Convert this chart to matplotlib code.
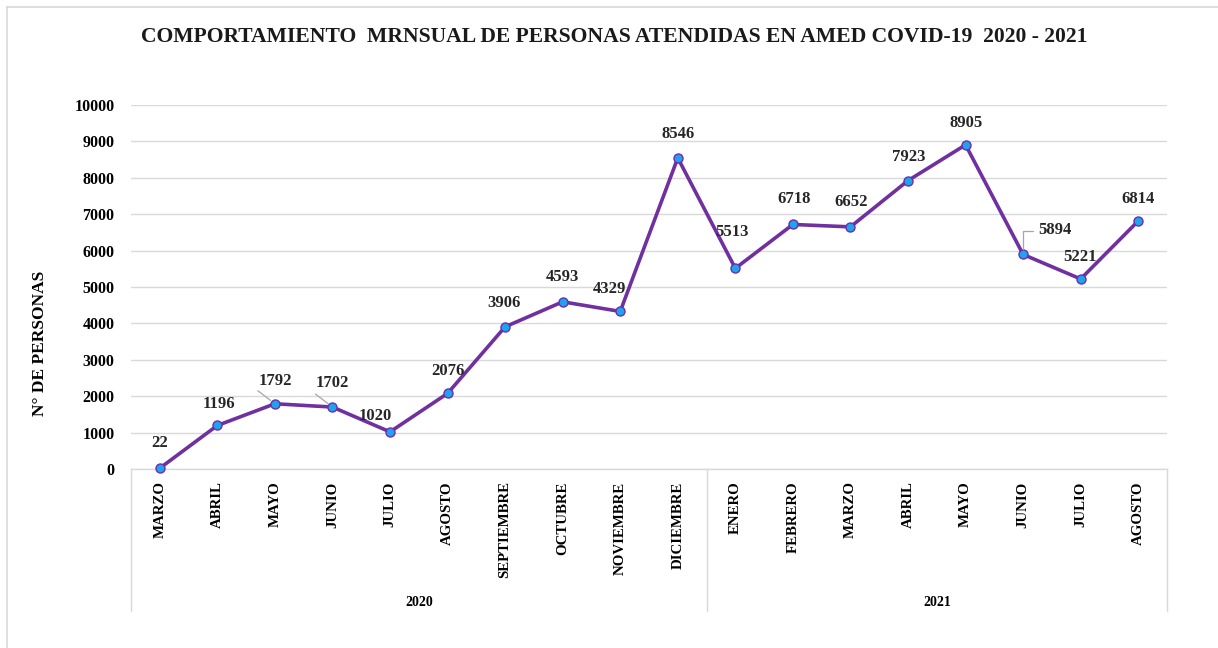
import matplotlib
matplotlib.use("Agg")
import matplotlib.pyplot as plt
from matplotlib.lines import Line2D
import matplotlib.transforms as mtransforms

plt.rcParams['font.family'] = ['Liberation Serif', 'DejaVu Serif']
plt.rcParams['font.weight'] = 'bold'

months = ["MARZO", "ABRIL", "MAYO", "JUNIO", "JULIO", "AGOSTO", "SEPTIEMBRE",
          "OCTUBRE", "NOVIEMBRE", "DICIEMBRE",
          "ENERO", "FEBRERO", "MARZO", "ABRIL", "MAYO", "JUNIO", "JULIO", "AGOSTO"]
years = ["2020", "2021"]
months_per_year = [10, 8]
values = [22, 1196, 1792, 1702, 1020, 2076, 3906, 4593, 4329, 8546,
          5513, 6718, 6652, 7923, 8905, 5894, 5221, 6814]
yticks = list(range(0, 10001, 1000))

title = "COMPORTAMIENTO  MRNSUAL DE PERSONAS ATENDIDAS EN AMED COVID-19  2020 - 2021"
ylabel = "N° DE PERSONAS"

W, H = 1218, 648
fig = plt.figure(figsize=(W / 100, H / 100), dpi=100)
ax = fig.add_axes([131 / W, 1 - 469 / H, (1167 - 131) / W, (469 - 105) / H])

x = list(range(len(values)))
ax.plot(x, values, color='#7030A0', lw=2.6, marker='o', markersize=6.5,
        markerfacecolor='#1FA3EC', markeredgecolor='#6A2FB0', markeredgewidth=1.0,
        zorder=3, clip_on=False)

ax.set_xlim(-0.5, len(values) - 0.5)
ax.set_ylim(0, 10000)
ax.set_yticks(yticks)
ax.set_yticklabels([str(t) for t in yticks], fontsize=11.5, fontweight='bold')
ax.yaxis.grid(True, color='#D9D9D9', lw=1.0)
ax.set_axisbelow(True)
ax.tick_params(axis='y', length=0, pad=12)
ax.set_xticks(x)
ax.set_xticklabels(months, rotation=90, fontsize=10.7, fontweight='bold', va='top')
ax.tick_params(axis='x', length=0, pad=9)
for s in ['top', 'right', 'left']:
    ax.spines[s].set_visible(False)
ax.spines['bottom'].set_color('#D9D9D9')
ax.spines['bottom'].set_linewidth(1.0)

# category group box
trans = mtransforms.blended_transform_factory(ax.transData, ax.transAxes)
bottom_y = -142 / 364
bounds = [-0.5]
acc = -0.5
for n in months_per_year:
    acc += n
    bounds.append(acc)
for b in bounds:
    ax.add_line(Line2D([b, b], [0, bottom_y], transform=trans, color='#D9D9D9',
                       lw=1.0, clip_on=False))
for i, yr in enumerate(years):
    ax.text((bounds[i] + bounds[i + 1]) / 2, -134 / 364, yr, transform=trans,
            ha='center', va='center', fontsize=10, fontweight='bold')

# data labels (pixel offsets)
offsets = [(0, 25), (1.5, 21), (0, 23), (0, 24), (-15, 16), (0, 22), (-1, 24),
           (0, 25), (-11, 22), (0, 24), (-3, 36), (1, 25), (1, 25), (1, 24),
           (1, 22), (32, 24), (-1, 22), (0, 22)]
for xi, v, (dx, dy) in zip(x, values, offsets):
    ax.annotate(str(v), xy=(xi, v), xytext=(dx, dy), textcoords='offset pixels',
                ha='center', va='center', fontsize=12, fontweight='bold',
                color='#262626', zorder=4)

# leader lines
lead = '#A6A6A6'
for idx in (2, 3):
    ax.annotate('', xy=(idx, values[idx]), xytext=(-17, 13), textcoords='offset pixels',
                arrowprops=dict(arrowstyle='-', color=lead, lw=0.9, shrinkA=0, shrinkB=4))
ax.annotate('', xy=(15, values[15]), xytext=(10, 23), textcoords='offset pixels',
            arrowprops=dict(arrowstyle='-', color=lead, lw=0.9, shrinkA=0, shrinkB=4,
                            connectionstyle='angle,angleA=0,angleB=90,rad=0'))

ax.set_ylabel(ylabel, fontsize=12.5, fontweight='bold', va='center')
ax.yaxis.set_label_coords((40 - 131) / 1036, (469 - 343) / 364)

fig.text(614 / W, 1 - 37 / H, title, ha='center', va='center', fontsize=15.6,
         fontweight='bold', color='#1a1a1a')

# figure border
fig.add_artist(Line2D([7 / W, 1], [1 - 7 / H, 1 - 7 / H], transform=fig.transFigure,
                      color='#D9D9D9', lw=1.2))
fig.add_artist(Line2D([7 / W, 7 / W], [0, 1 - 7 / H], transform=fig.transFigure,
                      color='#D9D9D9', lw=1.2))

fig.savefig('out.png', dpi=100)
